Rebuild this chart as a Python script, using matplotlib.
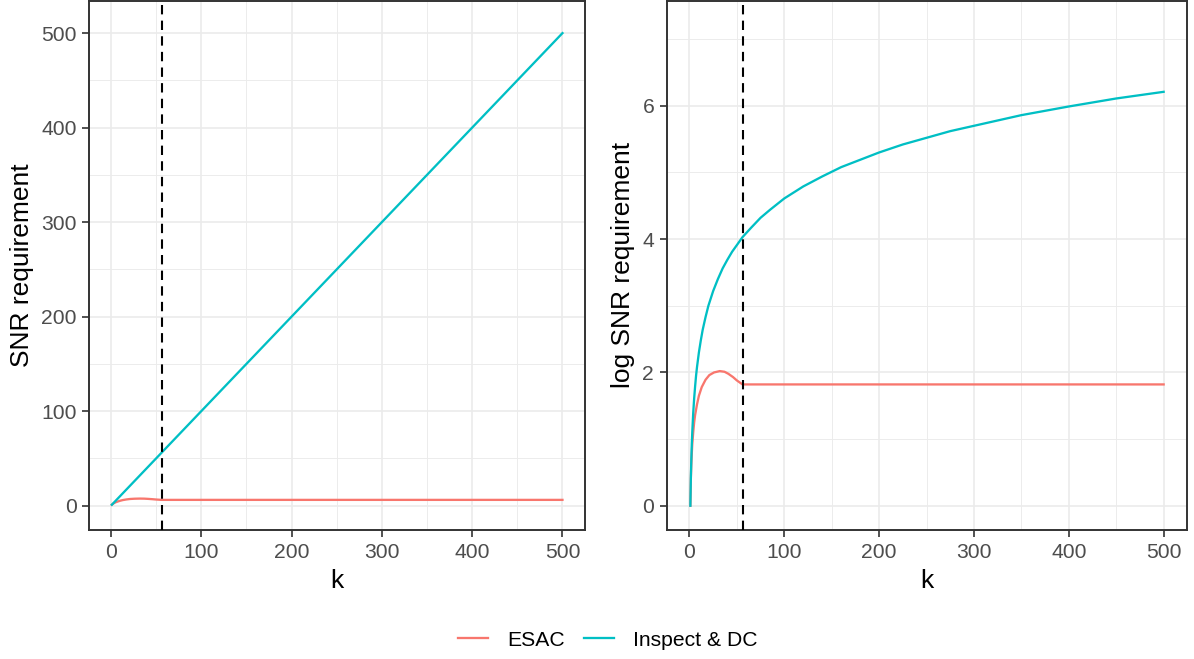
import matplotlib
matplotlib.use('Agg')
import matplotlib.pyplot as plt
from matplotlib.lines import Line2D

plt.rcParams['font.family'] = ['Liberation Sans', 'DejaVu Sans']

# Values
k_esac = [1, 1.5, 2, 2.5, 3, 4, 5, 6, 8, 10, 13, 17, 21, 26, 32, 37, 41, 46, 50, 53, 56,
          100, 200, 300, 400, 500]
snr_esac = [1.0, 1.49, 1.86, 2.18, 2.5, 3.0, 3.49, 3.9, 4.57, 5.2, 5.93, 6.6, 7.1, 7.39, 7.54, 7.46,
            7.24, 6.89, 6.55, 6.36, 6.17, 6.17, 6.17, 6.17, 6.17, 6.17]
log_esac = [0.0, 0.4, 0.62, 0.78, 0.92, 1.1, 1.25, 1.36, 1.52, 1.65, 1.78, 1.89, 1.96, 2.0, 2.02, 2.01,
            1.98, 1.93, 1.88, 1.85, 1.82, 1.82, 1.82, 1.82, 1.82, 1.82]

k_insp = [1, 1.5, 2, 2.5, 3, 4, 5, 6, 7, 8, 10, 12, 14, 17, 20, 25, 30, 35, 40, 45, 50, 56, 65, 75,
          85, 100, 120, 140, 160, 180, 200, 225, 250, 275, 300, 350, 400, 450, 500]
snr_insp = [1, 1.5, 2, 2.5, 3, 4, 5, 6, 7, 8, 10, 12, 14, 17, 20, 25, 30, 35, 40, 45, 50, 56, 65, 75,
            85, 100, 120, 140, 160, 180, 200, 225, 250, 275, 300, 350, 400, 450, 500]
log_insp = [0.0, 0.41, 0.69, 0.92, 1.10, 1.39, 1.61, 1.79, 1.95, 2.08, 2.30, 2.48, 2.64, 2.83, 3.00,
            3.22, 3.40, 3.56, 3.69, 3.81, 3.91, 4.03, 4.17, 4.32, 4.44, 4.61, 4.79, 4.94, 5.08, 5.19,
            5.30, 5.42, 5.52, 5.62, 5.70, 5.86, 5.99, 6.11, 6.21]

k_cut = 56
series_names = ['ESAC', 'Inspect & DC']
colors = ['#F8766D', '#00BFC4']

W, H = 1194, 659
fig = plt.figure(figsize=(W / 100, H / 100), dpi=100)

# panel boxes in pixels: (left, right, top, bottom)
panels = [(89.3, 585.0, 0.5, 530.0), (666.7, 1187.3, 0.5, 530.0)]
axes = []
for (l, r, t, b) in panels:
    axes.append(fig.add_axes([l / W, (H - b) / H, (r - l) / W, (b - t) / H]))

ax1, ax2 = axes

ax1.plot(k_esac, snr_esac, color=colors[0], lw=1.65, zorder=3)
ax1.plot(k_insp, snr_insp, color=colors[1], lw=1.65, zorder=3)
ax1.set_ylim(-25.7, 534.5)
ax1.set_yticks([0, 100, 200, 300, 400, 500])
ax1.set_yticks([50, 150, 250, 350, 450], minor=True)
ax1.set_ylabel('SNR requirement', fontsize=19, labelpad=5)

ax2.plot(k_esac, log_esac, color=colors[0], lw=1.65, zorder=3)
ax2.plot(k_insp, log_insp, color=colors[1], lw=1.65, zorder=3)
ax2.set_ylim(-0.364, 7.58)
ax2.set_yticks([0, 2, 4, 6])
ax2.set_yticks([1, 3, 5, 7], minor=True)
ax2.set_ylabel('log SNR requirement', fontsize=19, labelpad=5)

for ax in axes:
    ax.axvline(k_cut, color='black', lw=1.5, dashes=(4.5, 3), zorder=4)
    ax.set_xlim(-23.95, 524.95)
    ax.set_xticks([0, 100, 200, 300, 400, 500])
    ax.set_xticks([50, 150, 250, 350, 450], minor=True)
    ax.set_xlabel('k', fontsize=19, labelpad=5.5)
    ax.grid(which='major', color='#EBEBEB', lw=1.2, zorder=0)
    ax.grid(which='minor', color='#EBEBEB', lw=0.65, zorder=0)
    ax.set_axisbelow(True)
    ax.tick_params(which='major', direction='out', length=4.8, width=1.2, color='#333333',
                   labelcolor='#4D4D4D', labelsize=15.2, pad=4.2)
    ax.tick_params(which='minor', length=0)
    for sp in ax.spines.values():
        sp.set_color('#333333')
        sp.set_linewidth(1.4)

handles = [Line2D([], [], color=c, lw=1.65) for c in colors]
fig.legend(handles, series_names, loc='center', bbox_to_anchor=(607.5 / W, 19 / H), ncol=2,
           frameon=False, fontsize=15.2, handlelength=1.43, handletextpad=0.9, columnspacing=0.9)

plt.savefig('out.png', dpi=100)
